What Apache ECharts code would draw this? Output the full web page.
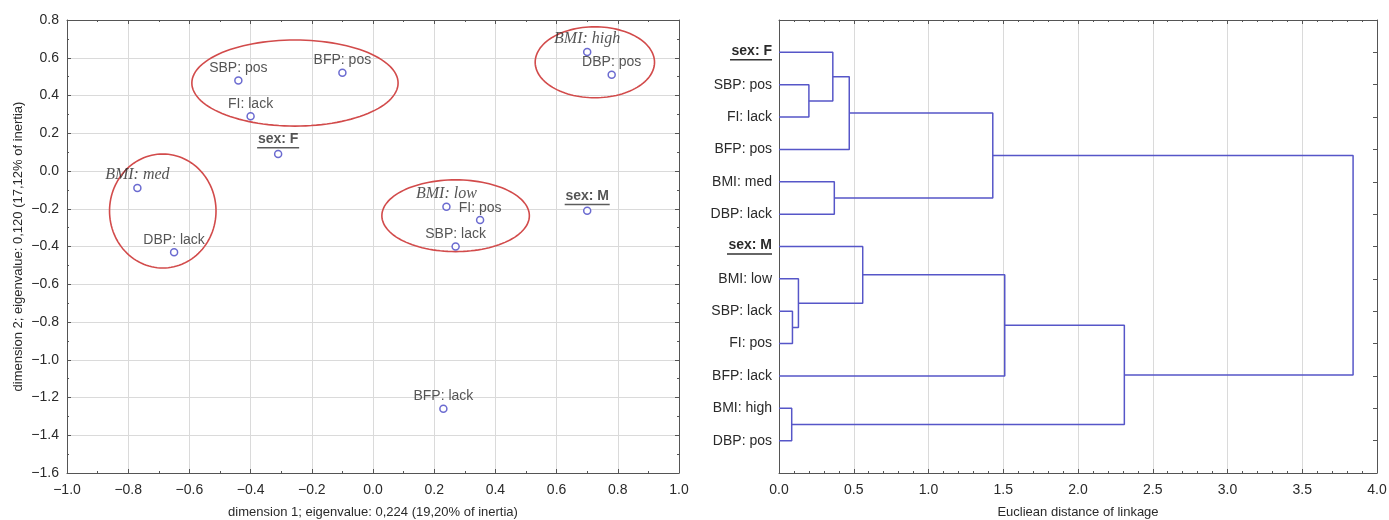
<!DOCTYPE html>
<html>
<head>
<meta charset="utf-8">
<script src="https://cdn.jsdelivr.net/npm/echarts@6/dist/echarts.min.js"></script>
<style>html,body{margin:0;padding:0;background:#fff;}#c{width:1389px;height:520px;}</style>
</head>
<body>
<div id="c"></div>
<script>
// ---- Correspondence analysis points ----
const pointNames = ['SBP: pos','BFP: pos','FI: lack','sex: F','BMI: med','DBP: lack','BMI: high','DBP: pos','BMI: low','FI: pos','SBP: lack','sex: M','BFP: lack'];
const dim1 = [-0.44,-0.10,-0.40,-0.31,-0.77,-0.65,0.70,0.78,0.24,0.35,0.27,0.70,0.23];
const dim2 = [0.48,0.52,0.29,0.09,-0.09,-0.43,0.63,0.51,-0.19,-0.26,-0.40,-0.21,-1.26];

// ---- Cluster ellipses (data units) ----
const ellipseCx = [-0.255,-0.687,0.725,0.27];
const ellipseCy = [0.466,-0.212,0.576,-0.237];
const ellipseRx = [0.337,0.174,0.195,0.241];
const ellipseRy = [0.228,0.302,0.188,0.19];

// ---- Dendrogram ----
const leaves = ['sex: F','SBP: pos','FI: lack','BFP: pos','BMI: med','DBP: lack','sex: M','BMI: low','SBP: lack','FI: pos','BFP: lack','BMI: high','DBP: pos'];
// merges: [childA, childB, height]; leaves 0..12, new clusters numbered from 13
const mergeA = [1, 0, 14, 4, 15, 8, 7, 6, 20, 11, 21, 17];
const mergeB = [2, 13, 3, 5, 16, 9, 18, 19, 10, 12, 22, 23];
const mergeH = [0.20, 0.36, 0.47, 0.37, 1.43, 0.09, 0.13, 0.56, 1.51, 0.085, 2.31, 3.84];

const xTicks1 = {min: -1, max: 1, interval: 0.2};
const yTicks1 = {min: -1.6, max: 0.8, interval: 0.2};
const xTicks2 = {min: 0, max: 4, interval: 0.5};

const fmt = v => (v < -1e-9 ? '\u2212' : '') + Math.abs(v).toFixed(1);

const chart = echarts.init(document.getElementById('c'), null, {renderer: 'canvas'});

const mctx = document.createElement('canvas').getContext('2d');
mctx.font = 'bold 14px "Liberation Sans"';
const uw = s => Math.ceil(mctx.measureText(s).width) + 1;

const LINE = '#5656c8';
const AX = '#555';
const TXT = '#2a2a2a';
const SANS = '"Liberation Sans", Arial, sans-serif';

// build dendrogram coordinates
const nodeX = [], nodeY = [];
leaves.forEach((l, i) => { nodeX[i] = 0; nodeY[i] = i + 1; });
const dendroSeries = [];
mergeH.forEach((h, k) => {
  const a = mergeA[k], b = mergeB[k];
  const id = leaves.length + k;
  nodeX[id] = h;
  nodeY[id] = (nodeY[a] + nodeY[b]) / 2;
  dendroSeries.push({
    type: 'line', xAxisIndex: 2, yAxisIndex: 2, symbol: 'none', silent: true,
    lineStyle: {color: LINE, width: 1.5},
    data: [[nodeX[a], nodeY[a]], [h, nodeY[a]], [h, nodeY[b]], [nodeX[b], nodeY[b]]]
  });
});

const richLabels = {
  n: {fontFamily: SANS, fontSize: 14, color: TXT},
  i: {fontFamily: '"Liberation Serif", "Times New Roman", serif', fontStyle: 'italic', fontSize: 16, color: TXT},
  b: {fontFamily: SANS, fontSize: 14, fontWeight: 'bold', color: TXT, lineHeight: 15},
  uF: {width: uw('sex: F'), height: 1.5, lineHeight: 2, backgroundColor: '#333'},
  uM: {width: uw('sex: M'), height: 1.5, lineHeight: 2, backgroundColor: '#333'}
};
const labelText = s => {
  if (s.indexOf('sex') === 0) return '{b|' + s + '}\n{' + (s === 'sex: F' ? 'uF' : 'uM') + '|}';
  if (s.indexOf('BMI') === 0) return '{i|' + s + '}';
  return '{n|' + s + '}';
};

const scatterData = pointNames.map((n, i) => ({name: n, value: [dim1[i], dim2[i]]}));

const axisLine = {show: true, onZero: false, lineStyle: {color: AX, width: 1}};
const tickIn = {show: true, inside: true, length: 4, lineStyle: {color: AX}};
const minorIn = {show: true, splitNumber: 2, length: 2, lineStyle: {color: AX}};

const option = {
  animation: false,
  backgroundColor: '#fff',
  grid: [
    {left: 67, top: 20, width: 612, height: 453, containLabel: false, outerBoundsMode: 'none'},
    {left: 779, top: 20, width: 598, height: 453, containLabel: false, outerBoundsMode: 'none'}
  ],
  xAxis: [
    {type: 'value', gridIndex: 0, position: 'bottom', ...xTicks1,
     axisLine, axisTick: tickIn, minorTick: minorIn,
     axisLabel: {formatter: fmt, color: TXT, fontSize: 14, fontFamily: SANS, margin: 10},
     splitLine: {show: true, lineStyle: {color: '#dadada'}},
     name: 'dimension 1; eigenvalue: 0,224 (19,20% of inertia)', nameLocation: 'middle', nameGap: 33,
     nameTextStyle: {color: TXT, fontSize: 13, fontFamily: SANS}},
    {type: 'value', gridIndex: 0, position: 'top', ...xTicks1,
     axisLine, axisTick: tickIn, minorTick: minorIn, axisLabel: {show: false}, splitLine: {show: false}},
    {type: 'value', gridIndex: 1, position: 'bottom', ...xTicks2,
     axisLine, axisTick: tickIn, minorTick: {show: true, splitNumber: 5, length: 2, lineStyle: {color: AX}},
     axisLabel: {formatter: v => v.toFixed(1), color: TXT, fontSize: 14, fontFamily: SANS, margin: 10},
     splitLine: {show: true, lineStyle: {color: '#dadada'}},
     name: 'Eucliean distance of linkage', nameLocation: 'middle', nameGap: 33,
     nameTextStyle: {color: TXT, fontSize: 13, fontFamily: SANS}},
    {type: 'value', gridIndex: 1, position: 'top', ...xTicks2,
     axisLine, axisTick: tickIn, minorTick: {show: true, splitNumber: 5, length: 2, lineStyle: {color: AX}},
     axisLabel: {show: false}, splitLine: {show: false}}
  ],
  yAxis: [
    {type: 'value', gridIndex: 0, position: 'left', ...yTicks1,
     axisLine, axisTick: tickIn, minorTick: minorIn,
     axisLabel: {formatter: fmt, color: TXT, fontSize: 14, fontFamily: SANS, margin: 8},
     splitLine: {show: true, lineStyle: {color: '#dadada'}},
     name: 'dimension 2; eigenvalue: 0,120 (17,12% of inertia)', nameLocation: 'middle', nameGap: 42, nameRotate: 90,
     nameTextStyle: {color: TXT, fontSize: 13, fontFamily: SANS}},
    {type: 'value', gridIndex: 0, position: 'right', ...yTicks1,
     axisLine, axisTick: tickIn, minorTick: minorIn, axisLabel: {show: false}, splitLine: {show: false}},
    {type: 'value', gridIndex: 1, position: 'left', min: 0, max: leaves.length + 1, interval: 1, inverse: true,
     axisLine, axisTick: {show: false},
     axisLabel: {margin: 7, formatter: v => (v >= 1 && v <= leaves.length) ? labelText(leaves[v - 1]).replace('{i|', '{n|') : '',
       rich: richLabels, color: TXT, fontSize: 14, fontFamily: SANS},
     splitLine: {show: false}},
    {type: 'value', gridIndex: 1, position: 'right', min: 0, max: leaves.length + 1, interval: 1, inverse: true,
     axisLine, axisTick: tickIn, axisLabel: {show: false}, splitLine: {show: false}}
  ],
  series: [
    {
      type: 'custom', xAxisIndex: 0, yAxisIndex: 0, silent: true, clip: true,
      data: ellipseCx.map((c, i) => [c, ellipseCy[i], ellipseRx[i], ellipseRy[i]]),
      renderItem: (params, api) => {
        const cx = api.value(0), cy = api.value(1), rx = api.value(2), ry = api.value(3);
        const pts = [];
        for (let k = 0; k <= 120; k++) {
          const t = k / 120 * Math.PI * 2;
          pts.push(api.coord([cx + rx * Math.cos(t), cy + ry * Math.sin(t)]));
        }
        return {type: 'polygon', shape: {points: pts}, style: {fill: 'none', stroke: '#d24b4b', lineWidth: 1.6}};
      }
    },
    {
      type: 'scatter', xAxisIndex: 0, yAxisIndex: 0, data: scatterData,
      symbol: 'circle', symbolSize: 7,
      itemStyle: {color: '#fff', borderColor: '#4646c4', borderWidth: 1.5},
      label: {show: true, position: 'top', distance: 1, formatter: p => labelText(p.name), rich: richLabels},
      labelLayout: {hideOverlap: false},
      z: 5
    },
    ...dendroSeries
  ]
};
chart.setOption(option);
</script>
</body>
</html>
